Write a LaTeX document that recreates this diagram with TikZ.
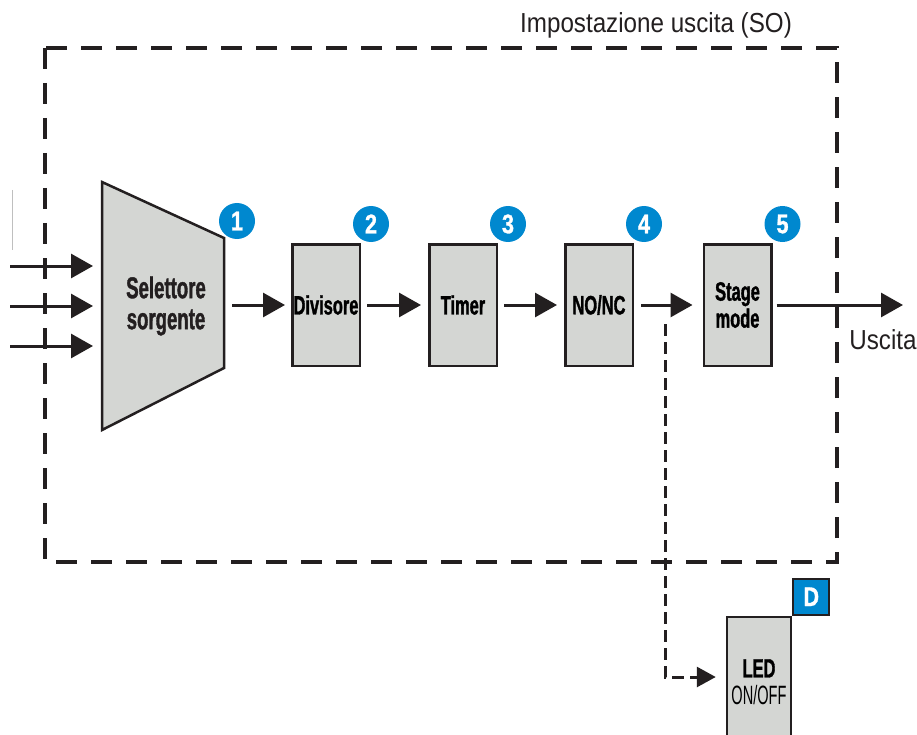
\documentclass[tikz,border=0pt]{standalone}
\usepackage{fontspec}
\setmainfont{Liberation Sans}
\newfontfamily\titlefont[FakeStretch=0.88]{Liberation Sans}
\newfontfamily\condfont[FakeStretch=0.62,FakeBold=1.2]{Liberation Sans}
\newfontfamily\narrowfont[FakeStretch=0.55]{Liberation Sans}
\newfontfamily\numfont[FakeStretch=0.8,FakeBold=1]{Liberation Sans}
\usetikzlibrary{arrows.meta,positioning}
\definecolor{boxgray}{HTML}{D4D6D3}
\definecolor{badgeblue}{HTML}{0088CF}
\definecolor{inkblack}{HTML}{231F20}

\begin{document}
\begin{tikzpicture}
	[
	x = 1pt,
	y = -1pt,
	frame/.style = {line width = 3.2pt, color = inkblack, dash pattern = on 21pt off 14pt},
	block/.style = {draw = inkblack, line width = 2.5pt, fill = boxgray, minimum width = 67.5pt, minimum height = 121.5pt, inner sep = 0pt, align = center, font = \condfont\bfseries\fontsize{26.5}{27}\selectfont},
	flow/.style = {line width = 3pt, color = inkblack, -{Triangle[length = 22pt, width = 24pt]}},
	link/.style = {line width = 3pt, color = inkblack, dash pattern = on 12pt off 6pt, -{Triangle[length = 19pt, width = 20pt]}},
	badge/.style = {circle, fill = badgeblue, minimum size = 36pt, inner sep = 0pt, text = white, font = \numfont\bfseries\fontsize{27}{27}\selectfont},
	tag/.style = {draw = inkblack, line width = 2pt, fill = badgeblue, minimum size = 36pt, inner sep = 0pt, text = white, font = \numfont\bfseries\fontsize{27}{27}\selectfont},
	plain/.style = {inner sep = 0pt, text = inkblack, font = \titlefont\fontsize{27.5}{30}\selectfont}]
	
	\useasboundingbox (0,0) rectangle (917,735);
	
	%% Settings frame
	
	\draw[frame] (45,48) rectangle (837,562);
	\node[plain] (title) at (656,25) {Impostazione uscita (SO)};
	
	%% Source selector
	
	\draw[line width = 2.5pt, draw = inkblack, fill = boxgray] (102,182) -- (224,238) -- (224,368) -- (102,430) -- cycle;
	\node[inner sep = 0pt, align = center, text = inkblack, font = \condfont\bfseries\fontsize{30}{31}\selectfont] (sel) at (166,306) {Selettore\\sorgente};
	\coordinate (sel-in) at (102,305);
	\coordinate (sel-out) at (224,305);
	
	\coordinate (in1) at (10,266);
	\coordinate (in2) at (10,306);
	\coordinate (in3) at (10,346);
	\draw[black!25, line width = 1pt] (12,190) -- (12,250);
	
	%% Blocks
	
	\node[block] (div) at (326,305) {Divisore};
	\node[block] (timer) at (463,305) {Timer};
	\node[block] (nonc) at (599,305) {NO/NC};
	\node[block] (stage) at (737.5,305) {Stage\\mode};
	\node[block, minimum height = 130pt, minimum width = 64pt] (led) at (759,682) {LED\\{\narrowfont\mdseries ON/OFF}};
	\coordinate (out) at (903,305);
	\coordinate (tap) at (665,324);
	
	%% Badges
	
	\node[badge] (b1) at (237,221) {1};
	\node[badge] (b2) at ([xshift = 10pt, yshift = 19pt]div.north east) {2};
	\node[badge] (b3) at ([xshift = 10pt, yshift = 19pt]timer.north east) {3};
	\node[badge] (b4) at ([xshift = 10pt, yshift = 19pt]nonc.north east) {4};
	\node[badge] (b5) at ([xshift = 10pt, yshift = 19pt]stage.north east) {5};
	\node[tag, anchor = south west] (bD) at (led.north east) {D};
	
	%% Connections
	
	\draw[flow, shorten > = 9pt] (in1) -- (in1 -| sel-in);
	\draw[flow, shorten > = 9pt] (in2) -- (in2 -| sel-in);
	\draw[flow, shorten > = 9pt] (in3) -- (in3 -| sel-in);
	\draw[flow, shorten < = 8pt, shorten > = 6pt] (sel-out) -- (div.west);
	\draw[flow, shorten < = 6pt, shorten > = 7pt] (div.east) -- (timer.west);
	\draw[flow, shorten < = 6pt, shorten > = 7pt] (timer.east) -- (nonc.west);
	\draw[flow, shorten < = 7pt, shorten > = 10pt] (nonc.east) -- (stage.west);
	\draw[flow, shorten < = 4pt] (stage.east) -- (out);
	\node[plain] (uscita) at (883,340) {Uscita};
	\draw[link, shorten > = 10pt] (tap) |- ([yshift = 5pt]led.west);
\end{tikzpicture}
\end{document}
